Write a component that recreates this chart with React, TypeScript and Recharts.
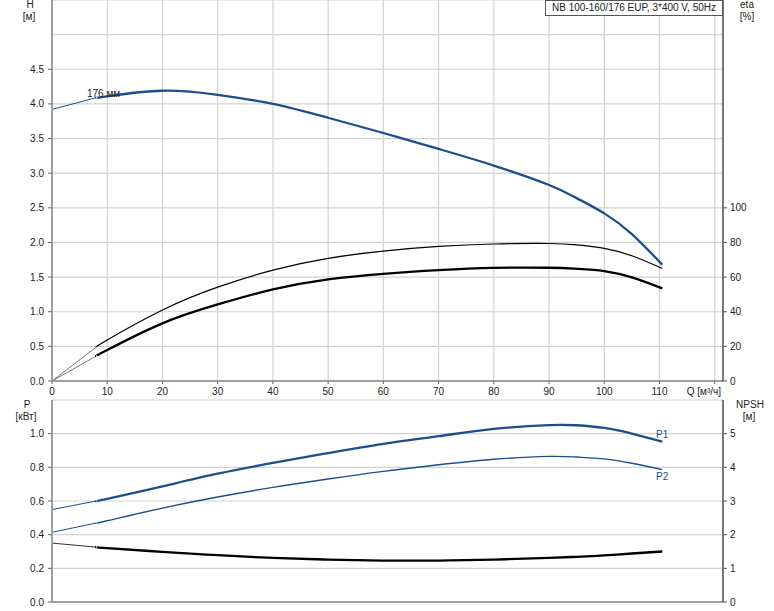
import React from 'react';
import { LineChart, Line, XAxis, YAxis, CartesianGrid } from 'recharts';

// расход Q, м³/ч (начальный тонкий участок и рабочий участок)
const qStart = [0, 8];
const qFlow = [8, 10, 20, 30, 40, 50, 60, 70, 80, 90, 95, 100, 105, 110.5];

// напор H, м
const headStart = [3.92, 4.09];
const headFlow = [4.09, 4.11, 4.19, 4.13, 4.0, 3.8, 3.58, 3.35, 3.11, 2.83, 2.64, 2.42, 2.12, 1.68];

// КПД, %
const etaUpperStart = [0, 19.5];
const etaUpperFlow = [19.5, 23.7, 41, 54.2, 64, 70.8, 75, 77.7, 79.1, 79.4, 78.6, 76.6, 72.3, 65];
const etaLowerStart = [0, 14.4];
const etaLowerFlow = [14.4, 17.9, 33.3, 44.2, 52.9, 58.7, 61.9, 64, 65.3, 65.4, 64.8, 63.5, 59.8, 53.5];

// мощность P1, P2, кВт
const p1Start = [0.549, 0.6];
const p1Flow = [0.6, 0.612, 0.687, 0.762, 0.826, 0.885, 0.94, 0.985, 1.028, 1.051, 1.05, 1.034, 1.0, 0.952];
const p2Start = [0.414, 0.469];
const p2Flow = [0.469, 0.483, 0.558, 0.624, 0.681, 0.731, 0.776, 0.815, 0.848, 0.865, 0.861, 0.85, 0.824, 0.786];

// NPSH, м
const npshStart = [1.75, 1.63];
const npshFlow = [1.63, 1.6, 1.49, 1.39, 1.31, 1.26, 1.23, 1.23, 1.26, 1.31, 1.343, 1.385, 1.44, 1.5];

// подписи осей
const qTicks = [0, 10, 20, 30, 40, 50, 60, 70, 80, 90, 100, 110, 120];
const hTicks = [0, 0.5, 1, 1.5, 2, 2.5, 3, 3.5, 4, 4.5, 5, 5.5];
const etaTicks = [0, 20, 40, 60, 80, 100];
const pTicks = [0, 0.2, 0.4, 0.6, 0.8, 1.0, 1.2];
const npshTicks = [0, 1, 2, 3, 4, 5];

const rows = (qs: number[], vs: number[]) => qs.map((q, i) => ({ q, v: vs[i] }));

const BLUE = '#1a4f8c';
const AXIS = '#a0a0a0';
const GRID = '#d2d2d2';
const FONT = '"Liberation Sans", Arial, sans-serif';
const Q_MAX = 121.5;

const LeftTick = (p: any, max: number) => {
  const v = p.payload.value;
  if (v > max + 1e-9) return <g />;
  return (
    <g>
      <line x1={48} x2={52} y1={p.y} y2={p.y} stroke="#666" />
      <text x={44} y={p.y} dy={3.5} textAnchor="end" fontSize={10} fill="#222" fontFamily={FONT}>
        {v.toFixed(1)}
      </text>
    </g>
  );
};

const QTick = (p: any) => {
  const v = p.payload.value;
  return (
    <g>
      <line x1={p.x} x2={p.x} y1={381} y2={384} stroke="#666" />
      {v === 120 ? (
        <text x={721} y={395} textAnchor="end" fontSize={10} fill="#222" fontFamily={FONT}>
          Q [м³/ч]
        </text>
      ) : (
        <text x={p.x} y={395} textAnchor="middle" fontSize={10} fill="#222" fontFamily={FONT}>
          {v}
        </text>
      )}
    </g>
  );
};

const Txt = ({ x, y, w = 40, align = 'center', color = '#222', children }: any) => (
  <div
    style={{
      position: 'absolute',
      left: align === 'center' ? x - w / 2 : x,
      top: y - 6,
      width: w,
      textAlign: align,
      fontSize: 10,
      lineHeight: '12px',
      color,
      fontFamily: FONT,
      whiteSpace: 'nowrap',
    }}
  >
    {children}
  </div>
);

const rightTick = { fontSize: 10, fill: '#222', fontFamily: FONT };

export default function App() {
  return (
    <div style={{ position: 'absolute', left: 0, top: 0, width: 774, height: 611, background: '#fff' }}>
      <div style={{ position: 'absolute', left: 0, top: 0 }}>
        <LineChart width={774} height={399} margin={{ top: 0, right: 0, left: 0, bottom: 0 }}>
          <CartesianGrid yAxisId="h" stroke={GRID} strokeWidth={1.2} />
          <XAxis
            type="number"
            dataKey="q"
            domain={[0, Q_MAX]}
            ticks={qTicks}
            allowDataOverflow
            height={18}
            tickLine={false}
            axisLine={{ stroke: AXIS, strokeWidth: 2 }}
            tick={QTick}
          />
          <YAxis
            yAxisId="h"
            type="number"
            domain={[0, 5.5]}
            ticks={hTicks}
            width={52}
            tickLine={false}
            axisLine={{ stroke: AXIS, strokeWidth: 2 }}
            tick={(p: any) => LeftTick(p, 4.5)}
          />
          <YAxis
            yAxisId="eta"
            orientation="right"
            type="number"
            domain={[0, 220]}
            ticks={etaTicks}
            width={51}
            tickSize={4}
            tickMargin={3}
            tickLine={{ stroke: '#555' }}
            axisLine={{ stroke: '#555', strokeWidth: 1.5 }}
            tick={rightTick}
          />
          <Line yAxisId="h" data={rows(qStart, headStart)} dataKey="v" type="natural" stroke={BLUE} strokeWidth={1} dot={false} isAnimationActive={false} />
          <Line yAxisId="h" data={rows(qFlow, headFlow)} dataKey="v" type="natural" stroke={BLUE} strokeWidth={2.3} dot={false} isAnimationActive={false} />
          <Line yAxisId="eta" data={rows(qStart, etaUpperStart)} dataKey="v" type="natural" stroke="#555" strokeWidth={0.8} dot={false} isAnimationActive={false} />
          <Line yAxisId="eta" data={rows(qFlow, etaUpperFlow)} dataKey="v" type="natural" stroke="#000" strokeWidth={1.2} dot={false} isAnimationActive={false} />
          <Line yAxisId="eta" data={rows(qStart, etaLowerStart)} dataKey="v" type="natural" stroke="#555" strokeWidth={0.8} dot={false} isAnimationActive={false} />
          <Line yAxisId="eta" data={rows(qFlow, etaLowerFlow)} dataKey="v" type="natural" stroke="#000" strokeWidth={2.3} dot={false} isAnimationActive={false} />
        </LineChart>
      </div>

      <div style={{ position: 'absolute', left: 0, top: 398 }}>
        <LineChart width={774} height={213} margin={{ top: 2, right: 0, left: 0, bottom: 0 }}>
          <CartesianGrid yAxisId="p" stroke={GRID} strokeWidth={1.2} />
          <XAxis
            type="number"
            dataKey="q"
            domain={[0, Q_MAX]}
            ticks={qTicks}
            allowDataOverflow
            height={9}
            tick={false}
            tickLine={false}
            axisLine={{ stroke: AXIS, strokeWidth: 2 }}
          />
          <XAxis
            xAxisId="top"
            orientation="top"
            type="number"
            domain={[0, Q_MAX]}
            height={0}
            tick={false}
            tickLine={false}
            axisLine={{ stroke: AXIS, strokeWidth: 2 }}
          />
          <YAxis
            yAxisId="p"
            type="number"
            domain={[0, 1.2]}
            ticks={pTicks}
            width={52}
            tickLine={false}
            axisLine={{ stroke: AXIS, strokeWidth: 2 }}
            tick={(p: any) => LeftTick(p, 1.0)}
          />
          <YAxis
            yAxisId="npsh"
            orientation="right"
            type="number"
            domain={[0, 6]}
            ticks={npshTicks}
            width={51}
            tickSize={4}
            tickMargin={3}
            tickLine={{ stroke: '#555' }}
            axisLine={{ stroke: '#555', strokeWidth: 1.5 }}
            tick={rightTick}
          />
          <Line yAxisId="p" data={rows(qStart, p1Start)} dataKey="v" type="natural" stroke={BLUE} strokeWidth={1} dot={false} isAnimationActive={false} />
          <Line yAxisId="p" data={rows(qFlow, p1Flow)} dataKey="v" type="natural" stroke={BLUE} strokeWidth={2.3} dot={false} isAnimationActive={false} />
          <Line yAxisId="p" data={rows(qStart, p2Start)} dataKey="v" type="natural" stroke={BLUE} strokeWidth={1} dot={false} isAnimationActive={false} />
          <Line yAxisId="p" data={rows(qFlow, p2Flow)} dataKey="v" type="natural" stroke={BLUE} strokeWidth={1.4} dot={false} isAnimationActive={false} />
          <Line yAxisId="npsh" data={rows(qStart, npshStart)} dataKey="v" type="natural" stroke="#333" strokeWidth={1} dot={false} isAnimationActive={false} />
          <Line yAxisId="npsh" data={rows(qFlow, npshFlow)} dataKey="v" type="natural" stroke="#000" strokeWidth={2.3} dot={false} isAnimationActive={false} />
        </LineChart>
      </div>

      <div
        style={{
          position: 'absolute',
          left: 545,
          top: 0,
          width: 178,
          height: 16,
          boxSizing: 'border-box',
          border: '1px solid #555',
          background: '#fff',
          fontSize: 10,
          lineHeight: '14px',
          textAlign: 'center',
          color: '#222',
          fontFamily: FONT,
          whiteSpace: 'nowrap',
        }}
      >
        NB 100-160/176 EUP, 3*400 V, 50Hz
      </div>

      <Txt x={30} y={5}>H</Txt>
      <Txt x={29} y={17}>[м]</Txt>
      <Txt x={747} y={5}>eta</Txt>
      <Txt x={747} y={17}>[%]</Txt>
      <Txt x={27} y={405}>P</Txt>
      <Txt x={26} y={417}>[кВт]</Txt>
      <Txt x={750} y={405}>NPSH</Txt>
      <Txt x={749} y={417}>[м]</Txt>
      <Txt x={87} y={94} align="left" w={50}>176 мм</Txt>
      <Txt x={656} y={435} align="left" w={20} color={BLUE}>P1</Txt>
      <Txt x={656} y={477} align="left" w={20} color={BLUE}>P2</Txt>
    </div>
  );
}
